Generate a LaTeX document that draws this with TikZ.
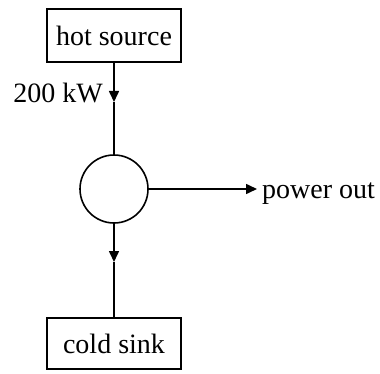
\documentclass[tikz,border=0pt]{standalone}
\usepackage{fontspec}
\setmainfont{Liberation Serif}
\usetikzlibrary{arrows.meta}
\begin{document}
\begin{tikzpicture}[x=1pt,y=1pt,
  every node/.style={font=\fontsize{28}{34}\selectfont},
  box/.style={draw,line width=1.6pt,minimum width=134pt,inner sep=0pt},
  line/.style={line width=1.6pt},
  arr/.style={line,-{Triangle[length=11pt,width=10pt]}}]
\useasboundingbox (0,0) rectangle (380,373);
\node[box,minimum height=53pt] (hot) at (114,337.5) {hot source};
\node[box,minimum height=51pt] (cold) at (114,29.5) {cold sink};
\node[draw,circle,line width=1.6pt,minimum size=68pt,inner sep=0pt] (eng) at (114,184) {};
\coordinate (a1) at (114,271);
\coordinate (a2) at (114,111);
\coordinate (pout) at (257,184);
\draw[arr] (hot.south) -- (a1);
\draw[line] (a1) -- (eng.north);
\draw[arr] (eng.south) -- (a2);
\draw[line] (a2) -- (cold.north);
\draw[arr] (eng.east) -- (pout);
\node[anchor=base east,inner sep=0pt] (lab) at (103,271) {200 kW};
\node[anchor=base west,inner sep=0pt] (po) at (262,175) {power out};
\end{tikzpicture}
\end{document}
